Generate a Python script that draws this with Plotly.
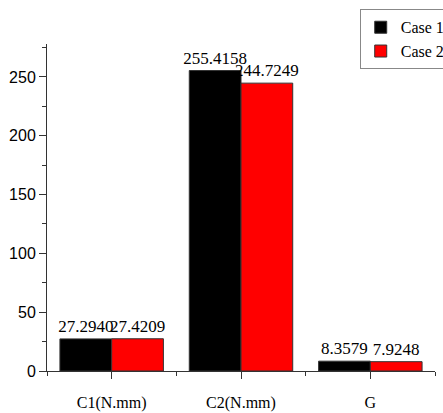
import plotly.graph_objects as go

categories = ["C1(N.mm)", "C2(N.mm)", "G"]
case1 = [27.2940, 255.4158, 8.3579]
case2 = [27.4209, 244.7249, 7.9248]
series_names = ["Case 1", "Case 2"]
y_ticks = [0, 50, 100, 150, 200, 250]

xpos = list(range(len(categories)))

serif = "Liberation Serif, Times New Roman, serif"
sans = "Liberation Sans, Arial, sans-serif"

fig = go.Figure()
for name, vals, col in [(series_names[0], case1, "#000000"), (series_names[1], case2, "#ff0000")]:
    fig.add_trace(go.Bar(
        x=xpos, y=vals, name=name,
        marker=dict(color=col, line=dict(color="#333333", width=1)),
        text=[f"{v:.4f}" for v in vals], textposition="outside",
        constraintext="none",
        textfont=dict(family=serif, size=17, color="#000000"),
        cliponaxis=False,
    ))

fig.update_layout(
    width=443, height=413,
    barmode="group", bargap=0.2, bargroupgap=0,
    plot_bgcolor="white", paper_bgcolor="white",
    margin=dict(l=47, r=8, t=44, b=42, autoexpand=False),
    showlegend=True,
    legend=dict(
        x=0.806, y=1.106, xanchor="left", yanchor="top",
        font=dict(family=serif, size=16, color="#000000"),
        bordercolor="#888888", borderwidth=1, bgcolor="white",
        tracegroupgap=0, itemwidth=30,
    ),
)
fig.update_xaxes(
    range=[-0.5, 2.5], tickmode="array", tickvals=xpos, ticktext=categories,
    showgrid=False, zeroline=False, showline=True, linecolor="#333333", linewidth=1,
    ticks="outside", ticklen=7, tickcolor="#333333",
    tickfont=dict(family=serif, size=16, color="#000000"),
    ticklabelstandoff=10,
    minor=dict(tickmode="linear", tick0=0.5, dtick=1, ticks="outside", ticklen=4, tickcolor="#333333"),
)
fig.update_yaxes(
    range=[0, 278], tickmode="array", tickvals=y_ticks,
    showgrid=False, zeroline=False, showline=True, linecolor="#333333", linewidth=1,
    ticks="outside", ticklen=7, tickcolor="#333333",
    tickfont=dict(family=sans, size=16, color="#000000"),
    minor=dict(tickmode="linear", tick0=25, dtick=50, ticks="outside", ticklen=4, tickcolor="#333333"),
)

fig.write_html("out.html", config={"displayModeBar": False},
               post_script="document.body.style.margin='0';")
